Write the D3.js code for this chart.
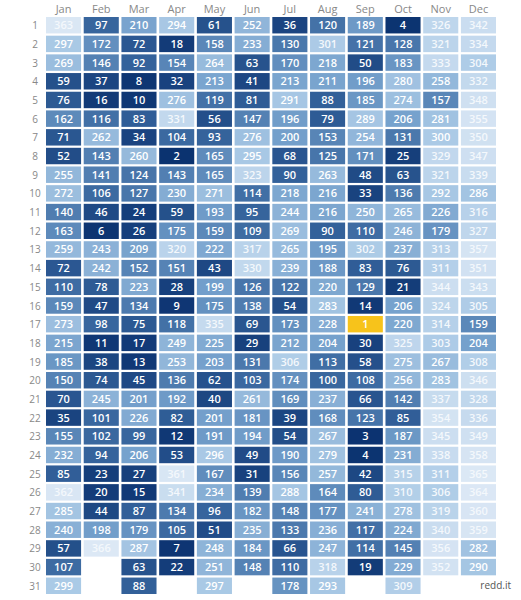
<!DOCTYPE html>
<html>
<head>
<meta charset="utf-8">
<script src="https://cdn.jsdelivr.net/npm/d3@7"></script>
<style>
  body { margin: 0; background: #fff; }
  text { font-family: "Open Sans", sans-serif; }
</style>
</head>
<body>
<script>
var months = ['Jan', 'Feb', 'Mar', 'Apr', 'May', 'Jun', 'Jul', 'Aug', 'Sep', 'Oct', 'Nov', 'Dec'];
var days = d3.range(1, 32);

var jan = [363, 297, 269, 59, 76, 162, 71, 52, 255, 272, 140, 163, 259, 72, 110, 159, 273, 215, 185, 150, 70, 35, 155, 232, 85, 362, 285, 240, 57, 107, 299];
var feb = [97, 172, 146, 37, 16, 116, 262, 143, 141, 106, 46, 6, 243, 242, 78, 47, 98, 11, 38, 74, 245, 101, 102, 94, 23, 20, 44, 198, 366];
var mar = [210, 72, 92, 8, 10, 83, 34, 260, 124, 127, 24, 26, 209, 152, 223, 134, 75, 17, 13, 45, 201, 226, 99, 206, 27, 15, 87, 179, 287, 63, 88];
var apr = [294, 18, 154, 32, 276, 331, 104, 2, 143, 230, 59, 175, 320, 151, 28, 9, 118, 249, 253, 136, 192, 82, 12, 53, 361, 341, 134, 105, 7, 22];
var may = [61, 158, 264, 213, 119, 56, 93, 165, 165, 271, 193, 159, 222, 43, 199, 175, 335, 225, 203, 62, 40, 201, 191, 296, 167, 234, 96, 51, 248, 251, 297];
var jun = [252, 233, 63, 41, 81, 147, 276, 295, 323, 114, 95, 109, 317, 330, 126, 138, 69, 29, 131, 103, 261, 181, 194, 49, 31, 139, 182, 235, 184, 148];
var jul = [36, 130, 170, 213, 291, 196, 200, 68, 90, 218, 244, 269, 265, 239, 122, 54, 173, 212, 306, 174, 169, 39, 54, 190, 156, 288, 148, 133, 66, 110, 178];
var aug = [120, 301, 218, 211, 88, 79, 153, 125, 263, 216, 216, 90, 195, 188, 220, 283, 228, 204, 113, 100, 237, 168, 267, 279, 257, 164, 177, 236, 247, 318, 293];
var sep = [189, 121, 50, 196, 185, 289, 254, 171, 48, 33, 250, 110, 302, 83, 129, 14, 1, 30, 58, 108, 66, 123, 3, 4, 42, 80, 241, 117, 114, 19];
var oct = [4, 128, 183, 280, 274, 206, 131, 25, 63, 136, 265, 246, 237, 76, 21, 206, 220, 325, 275, 256, 142, 85, 187, 231, 315, 310, 278, 224, 145, 229, 309];
var nov = [326, 321, 333, 258, 157, 281, 300, 329, 321, 292, 226, 179, 313, 311, 344, 324, 314, 303, 267, 283, 337, 354, 345, 338, 311, 306, 319, 340, 356, 352];
var dec = [342, 334, 304, 332, 348, 355, 350, 347, 339, 286, 316, 327, 357, 351, 343, 305, 159, 204, 308, 346, 328, 336, 349, 358, 365, 364, 360, 359, 282, 290];

var series = [jan, feb, mar, apr, may, jun, jul, aug, sep, oct, nov, dec];
var cells = [];
series.forEach(function(vals, m) {
    vals.forEach(function(v, i) {
        cells.push({ month: months[m], day: i + 1, value: v });
    });
});

var svg = d3.select('body').append('svg')
    .attr('width', 521)
    .attr('height', 600);

var x = d3.scaleBand().domain(months).range([46, 496]).paddingInner(0.07);
var y = d3.scaleBand().domain(days).range([17, 594]).paddingInner(0.12);

var color = d3.scaleLinear()
    .domain([1, 90, 200, 300, 366])
    .range(['#0b3270', '#33619a', '#739fcb', '#abcae6', '#dce8f5']);

svg.selectAll('rect.cell')
    .data(cells)
    .enter()
    .append('rect')
    .attr('class', 'cell')
    .attr('x', function(d) { return x(d.month); })
    .attr('y', function(d) { return y(d.day); })
    .attr('width', x.bandwidth())
    .attr('height', y.bandwidth())
    .attr('fill', function(d) {
        // the number one day stands out
        if (d.value === 1) {
            return '#f7c31b';
        }
        return color(d.value);
    });

svg.selectAll('text.val')
    .data(cells)
    .enter()
    .append('text')
    .attr('class', 'val')
    .attr('x', function(d) { return x(d.month) + x.bandwidth() / 2; })
    .attr('y', function(d) { return y(d.day) + y.bandwidth() / 2 + 4; })
    .attr('text-anchor', 'middle')
    .attr('font-size', 11)
    .attr('font-weight', 600)
    .attr('fill', function(d) { return d.value > 300 ? '#f4f8fc' : '#fff'; })
    .text(function(d) { return d.value; });

svg.selectAll('text.month')
    .data(months)
    .enter()
    .append('text')
    .attr('class', 'month')
    .attr('x', function(d) { return x(d) + x.bandwidth() / 2; })
    .attr('y', 13)
    .attr('text-anchor', 'middle')
    .attr('font-size', 11)
    .attr('fill', '#888')
    .text(function(d) { return d; });

svg.selectAll('text.day')
    .data(days)
    .enter()
    .append('text')
    .attr('class', 'day')
    .attr('x', 35)
    .attr('y', function(d) { return y(d) + y.bandwidth() / 2 + 4; })
    .attr('text-anchor', 'middle')
    .attr('font-size', 10)
    .attr('fill', '#888')
    .text(function(d) { return d; });

svg.append('text')
    .attr('x', 511)
    .attr('y', 589)
    .attr('text-anchor', 'end')
    .attr('font-family', 'DejaVu Sans Mono')
    .attr('font-size', 10)
    .attr('fill', '#555')
    .text('redd.it');
</script>
</body>
</html>
